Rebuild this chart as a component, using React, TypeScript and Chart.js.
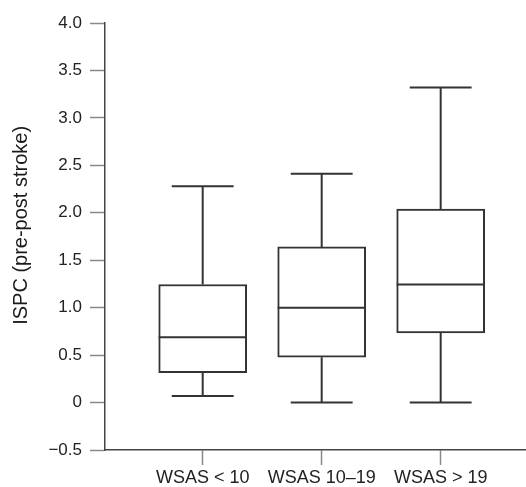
import React, { useEffect, useRef } from "react";
import { Chart, registerables } from "chart.js";

Chart.register(...registerables);

const categories = ["WSAS < 10", "WSAS 10\u201319", "WSAS > 19"];
const positions = [1, 2, 3];
const whiskerMin = [0.07, 0.0, 0.0];
const q1 = [0.315, 0.477, 0.735];
const median = [0.687, 1.0, 1.244];
const q3 = [1.244, 1.64, 2.04];
const whiskerMax = [2.28, 2.41, 3.32];
const yTickValues = [-0.5, 0, 0.5, 1.0, 1.5, 2.0, 2.5, 3.0, 3.5, 4.0];
const yTickLabels = ["\u22120.5", "0", "0.5", "1.0", "1.5", "2.0", "2.5", "3.0", "3.5", "4.0"];
const yTitle = "ISPC (pre-post stroke)";

const INK = "#333333";
const FONT = "'Liberation Sans', Arial, Helvetica, sans-serif";
const CAP_HALF = 0.26;
const MED_HALF = 0.37;

export default function App() {
  const ref = useRef<HTMLCanvasElement | null>(null);

  useEffect(() => {
    if (!ref.current) return;

    const whiskerData: any[] = [];
    positions.forEach((x, i) => {
      whiskerData.push({ x, y: q3[i] }, { x, y: whiskerMax[i] }, { x, y: null });
      whiskerData.push({ x: x - CAP_HALF, y: whiskerMax[i] }, { x: x + CAP_HALF, y: whiskerMax[i] }, { x, y: null });
      whiskerData.push({ x, y: q1[i] }, { x, y: whiskerMin[i] }, { x, y: null });
      whiskerData.push({ x: x - CAP_HALF, y: whiskerMin[i] }, { x: x + CAP_HALF, y: whiskerMin[i] }, { x, y: null });
    });
    const medianData: any[] = [];
    positions.forEach((x, i) => {
      medianData.push({ x: x - MED_HALF, y: median[i] }, { x: x + MED_HALF, y: median[i] }, { x, y: null });
    });

    const chart = new Chart(ref.current, {
      type: "bar",
      data: {
        datasets: [
          {
            type: "bar",
            data: positions.map((x, i) => ({ x, y: [q1[i], q3[i]] })) as any,
            backgroundColor: "#ffffff",
            borderColor: INK,
            borderWidth: 2,
            borderSkipped: false,
            barThickness: 88,
            order: 3,
          } as any,
          {
            type: "line",
            data: whiskerData,
            borderColor: INK,
            borderWidth: 2,
            pointRadius: 0,
            spanGaps: false,
            fill: false,
            order: 1,
          } as any,
          {
            type: "line",
            data: medianData,
            borderColor: INK,
            borderWidth: 2,
            pointRadius: 0,
            spanGaps: false,
            fill: false,
            order: 0,
          } as any,
        ],
      },
      options: {
        animation: false,
        responsive: false,
        layout: { padding: { top: 23, left: 0, right: 0, bottom: 0 } },
        plugins: { legend: { display: false }, tooltip: { enabled: false } },
        scales: {
          x: {
            type: "linear",
            offset: false,
            min: 0.179,
            max: 3.717,
            afterFit: (s: any) => {
              s.height = 37;
            },
            afterBuildTicks: (s: any) => {
              s.ticks = positions.map((v) => ({ value: v }));
            },
            ticks: {
              autoSkip: false,
              maxRotation: 0,
              padding: 2,
              color: "#222",
              font: { family: FONT, size: 18 },
              callback: (v: any) => {
                const i = positions.indexOf(Number(v));
                return i >= 0 ? categories[i] : "";
              },
            },
            grid: {
              display: true,
              offset: false,
              drawOnChartArea: false,
              drawTicks: true,
              tickLength: 15,
              tickColor: "#888",
              tickWidth: 1.5,
            },
            border: { display: true, color: "#444", width: 1.5 },
          },
          y: {
            type: "linear",
            min: -0.5,
            max: 4.0,
            afterFit: (s: any) => {
              s.width = 105;
            },
            afterBuildTicks: (s: any) => {
              s.ticks = yTickValues.map((v) => ({ value: v }));
            },
            ticks: {
              padding: 8,
              color: "#222",
              font: { family: FONT, size: 17 },
              callback: (v: any) => {
                const i = yTickValues.findIndex((t) => Math.abs(t - Number(v)) < 1e-9);
                return i >= 0 ? yTickLabels[i] : "";
              },
            },
            grid: {
              display: true,
              drawOnChartArea: false,
              drawTicks: true,
              tickLength: 15,
              tickColor: "#888",
              tickWidth: 1.5,
            },
            border: { display: true, color: "#444", width: 1.5 },
            title: {
              display: true,
              text: "    " + yTitle,
              color: "#1a1a1a",
              font: { family: FONT, size: 20 },
              padding: { top: 9, bottom: 0 },
            },
          },
        },
      },
    });
    return () => chart.destroy();
  }, []);

  return (
    <div style={{ position: "absolute", left: 0, top: 0, width: 526, height: 487, background: "#fff" }}>
      <canvas ref={ref} width={526} height={487} style={{ width: 526, height: 487, display: "block" }} />
    </div>
  );
}
